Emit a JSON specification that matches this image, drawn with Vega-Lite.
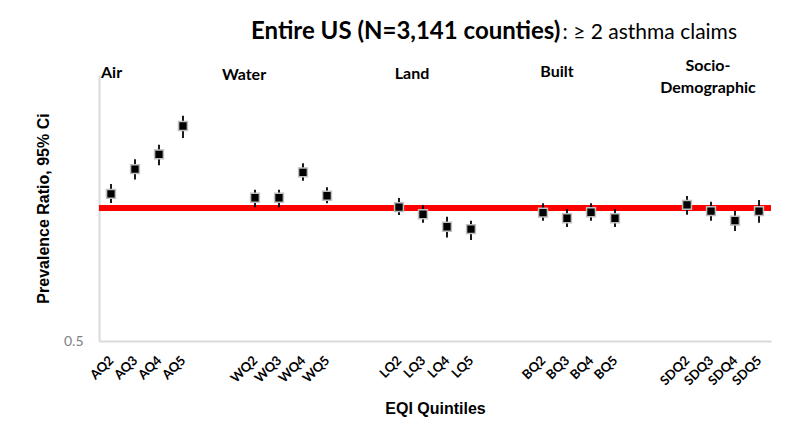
{
  "$schema": "https://vega.github.io/schema/vega-lite/v6.json",
  "width": 672,
  "height": 266,
  "autosize": {"type": "none"},
  "padding": {"left": 99, "top": 75, "right": 29, "bottom": 107},
  "background": "white",
  "config": {"view": {"stroke": null}},
  "data": {
    "values": [
      {"label": "AQ2", "group": "Air", "pr": 1.076, "lo": 1.026, "hi": 1.133},
      {"label": "AQ3", "group": "Air", "pr": 1.225, "lo": 1.16, "hi": 1.29},
      {"label": "AQ4", "group": "Air", "pr": 1.323, "lo": 1.25, "hi": 1.39},
      {"label": "AQ5", "group": "Air", "pr": 1.533, "lo": 1.44, "hi": 1.618},
      {"label": "WQ2", "group": "Water", "pr": 1.055, "lo": 1.004, "hi": 1.1},
      {"label": "WQ3", "group": "Water", "pr": 1.055, "lo": 1.004, "hi": 1.1},
      {"label": "WQ4", "group": "Water", "pr": 1.204, "lo": 1.153, "hi": 1.262},
      {"label": "WQ5", "group": "Water", "pr": 1.066, "lo": 1.025, "hi": 1.114},
      {"label": "LQ2", "group": "Land", "pr": 1.005, "lo": 0.964, "hi": 1.053},
      {"label": "LQ3", "group": "Land", "pr": 0.968, "lo": 0.926, "hi": 1.014},
      {"label": "LQ4", "group": "Land", "pr": 0.907, "lo": 0.857, "hi": 0.956},
      {"label": "LQ5", "group": "Land", "pr": 0.896, "lo": 0.846, "hi": 0.936},
      {"label": "BQ2", "group": "Built", "pr": 0.976, "lo": 0.936, "hi": 1.025},
      {"label": "BQ3", "group": "Built", "pr": 0.948, "lo": 0.906, "hi": 0.993},
      {"label": "BQ4", "group": "Built", "pr": 0.978, "lo": 0.936, "hi": 1.025},
      {"label": "BQ5", "group": "Built", "pr": 0.948, "lo": 0.906, "hi": 0.993},
      {"label": "SDQ2", "group": "Socio-Demographic", "pr": 1.016, "lo": 0.966, "hi": 1.065},
      {"label": "SDQ3", "group": "Socio-Demographic", "pr": 0.984, "lo": 0.936, "hi": 1.033},
      {"label": "SDQ4", "group": "Socio-Demographic", "pr": 0.936, "lo": 0.887, "hi": 0.984},
      {"label": "SDQ5", "group": "Socio-Demographic", "pr": 0.984, "lo": 0.926, "hi": 1.042}
    ]
  },
  "encoding": {
    "x": {
      "field": "label",
      "type": "nominal",
      "sort": null,
      "scale": {
        "type": "point",
        "padding": 0.5,
        "domain": ["AQ2", "AQ3", "AQ4", "AQ5", "_1", "_2", "WQ2", "WQ3", "WQ4", "WQ5", "_3", "_4", "LQ2", "LQ3", "LQ4", "LQ5", "_5", "_6", "BQ2", "BQ3", "BQ4", "BQ5", "_7", "_8", "SDQ2", "SDQ3", "SDQ4", "SDQ5"]
      },
      "axis": {
        "title": "EQI Quintiles",
        "titleFont": "Liberation Sans",
        "titleFontSize": 16,
        "titleFontWeight": "bold",
        "titleColor": "black",
        "titleBaseline": "alphabetic",
        "titleY": 72,
        "labelExpr": "indexof(datum.label, '_') >= 0 ? '' : datum.label",
        "labelAngle": -45,
        "labelAlign": "right",
        "labelBaseline": "middle",
        "labelPadding": 17,
        "labelFont": "Lato",
        "labelFontSize": 13,
        "labelFontWeight": "bold",
        "labelColor": "black",
        "ticks": false,
        "grid": false,
        "domainColor": "#d9d9d9",
        "domainWidth": 2
      }
    }
  },
  "layer": [
    {
      "mark": {"type": "rule", "color": "#ff0000", "strokeWidth": 5},
      "encoding": {"x": null, "y": {"datum": 1, "type": "quantitative", "scale": {"type": "log", "domain": [0.5, 2]}}}
    },
    {
      "mark": {"type": "rule", "color": "black", "strokeWidth": 1.8},
      "encoding": {
        "y": {
          "field": "lo",
          "type": "quantitative",
          "scale": {"type": "log", "domain": [0.5, 2]},
          "axis": {
            "title": "Prevalence Ratio, 95% Ci",
            "titleFont": "Liberation Sans",
            "titleFontSize": 16,
            "titleFontWeight": "bold",
            "titleColor": "black",
            "titleX": -56,
            "titleBaseline": "middle",
            "values": [0.5],
            "format": ".1f",
            "labelFlush": false,
            "labelFont": "Lato",
            "labelFontSize": 14,
            "labelColor": "#7f7f7f",
            "labelPadding": 16,
            "ticks": false,
            "grid": false,
            "domainColor": "#d9d9d9",
            "domainWidth": 2
          }
        },
        "y2": {"field": "hi"}
      }
    },
    {
      "mark": {"type": "point", "shape": "square", "filled": true, "color": "black", "stroke": "#bfbfbf", "strokeWidth": 1.5, "size": 78, "opacity": 1},
      "encoding": {"y": {"field": "pr", "type": "quantitative", "scale": {"type": "log", "domain": [0.5, 2]}}}
    },
    {
      "data": {"values": [{"t": "Entire US (N=3,141 counties)"}]},
      "mark": {"type": "text", "align": "left", "baseline": "alphabetic", "font": "Lato", "fontSize": 24, "fontWeight": "bold", "color": "black", "dx": 68, "dy": -36},
      "encoding": {"x": {"datum": "AQ5"}, "y": {"datum": 2, "type": "quantitative", "scale": {"type": "log", "domain": [0.5, 2]}}, "text": {"field": "t"}}
    },
    {
      "data": {"values": [{"t": ":  ≥ 2 asthma claims"}]},
      "mark": {"type": "text", "align": "right", "baseline": "alphabetic", "font": "Lato", "fontSize": 21, "color": "black", "dx": 26, "dy": -36},
      "encoding": {"x": {"datum": "SDQ3"}, "y": {"datum": 2, "type": "quantitative", "scale": {"type": "log", "domain": [0.5, 2]}}, "text": {"field": "t"}}
    },
    {
      "data": {"values": [{"t": "Air"}]},
      "mark": {"type": "text", "align": "left", "baseline": "alphabetic", "font": "Lato", "fontSize": 16, "fontWeight": "bold", "color": "black", "dx": -10, "dy": 3},
      "encoding": {"x": {"datum": "AQ2"}, "y": {"datum": 2, "type": "quantitative", "scale": {"type": "log", "domain": [0.5, 2]}}, "text": {"field": "t"}}
    },
    {
      "data": {"values": [{"t": "Water"}]},
      "mark": {"type": "text", "align": "center", "baseline": "alphabetic", "font": "Lato", "fontSize": 16, "fontWeight": "bold", "color": "black", "dx": -11, "dy": 5},
      "encoding": {"x": {"datum": "WQ2"}, "y": {"datum": 2, "type": "quantitative", "scale": {"type": "log", "domain": [0.5, 2]}}, "text": {"field": "t"}}
    },
    {
      "data": {"values": [{"t": "Land"}]},
      "mark": {"type": "text", "align": "center", "baseline": "alphabetic", "font": "Lato", "fontSize": 16, "fontWeight": "bold", "color": "black", "dx": 13, "dy": 4},
      "encoding": {"x": {"datum": "LQ2"}, "y": {"datum": 2, "type": "quantitative", "scale": {"type": "log", "domain": [0.5, 2]}}, "text": {"field": "t"}}
    },
    {
      "data": {"values": [{"t": "Built"}]},
      "mark": {"type": "text", "align": "center", "baseline": "alphabetic", "font": "Lato", "fontSize": 16, "fontWeight": "bold", "color": "black", "dx": 14, "dy": 2},
      "encoding": {"x": {"datum": "BQ2"}, "y": {"datum": 2, "type": "quantitative", "scale": {"type": "log", "domain": [0.5, 2]}}, "text": {"field": "t"}}
    },
    {
      "data": {"values": [{"t": ["Socio-", "Demographic"]}]},
      "mark": {"type": "text", "align": "center", "baseline": "alphabetic", "font": "Lato", "fontSize": 16, "fontWeight": "bold", "color": "black", "lineHeight": 22, "dx": -3, "dy": -4},
      "encoding": {"x": {"datum": "SDQ3"}, "y": {"datum": 2, "type": "quantitative", "scale": {"type": "log", "domain": [0.5, 2]}}, "text": {"field": "t"}}
    }
  ]
}
